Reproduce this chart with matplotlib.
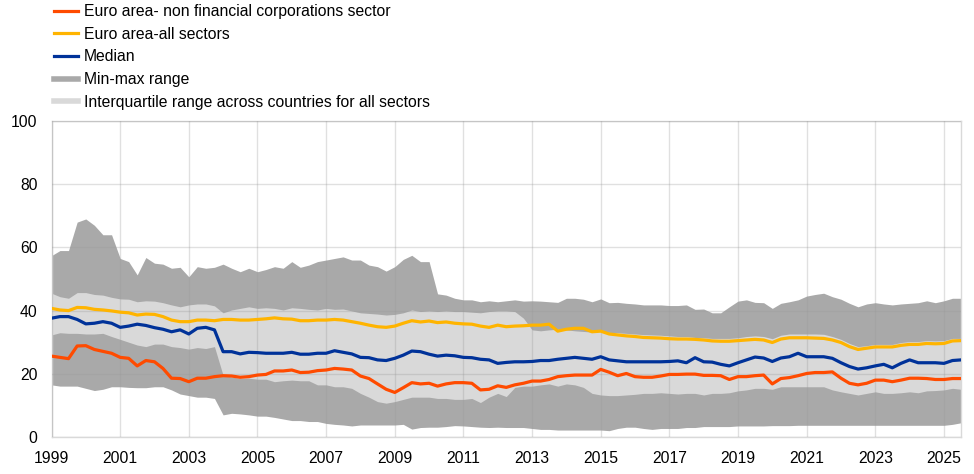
import matplotlib
matplotlib.use("Agg")
import matplotlib.pyplot as plt
import matplotlib.dates as mdates
from matplotlib.lines import Line2D
import pandas as pd

plt.rcParams['font.family'] = ['Liberation Sans', 'DejaVu Sans']

# quarterly observations, 1999 Q1 - 2025 Q3
dates = pd.date_range('1999-01-01', periods=107, freq='QS')
year_ticks = pd.date_range('1999-01-01', '2025-01-01', freq='2YS')

max_range = [57.4, 59, 59, 68, 69, 67, 64, 64, 56.5, 55.5, 51.3, 56.8, 55, 54.7, 53.4, 53.7,
             50.7, 53.9, 53.4, 53.7, 54.7, 53.4, 52.3, 53.4, 52.3, 53, 53.9, 53.4, 55.5, 53.7, 54.4, 55.5,
             56, 56.5, 57, 56, 56, 54.4, 53.9, 52.5, 53.9, 56.2, 57.5, 55.5, 55.5, 45.3, 44.9, 43.9,
             43.4, 43.4, 42.8, 43.1, 42.8, 43.1, 43.4, 43, 43.1, 43, 42.8, 42.6, 43.9, 43.9, 43.6, 42.8,
             43.7, 42.5, 42.6, 42.3, 42.1, 41.8, 41.8, 41.8, 41.6, 41.6, 41.8, 40.4, 40.5, 39.3, 39.3, 41.2,
             43, 43.4, 42.6, 42.5, 40.7, 42.3, 42.8, 43.4, 44.6, 45.1, 45.5, 44.4, 43.6, 42.3, 41.2, 42.1,
             42.5, 42.1, 41.8, 42.1, 42.3, 42.5, 43.1, 42.5, 43.1, 43.9, 43.9]
q3 = [45.5, 44.4, 43.9, 45.7, 45.7, 45.1, 44.9, 44.2, 43.7, 43.6, 42.8, 43.1, 43, 42.5, 41.8, 41.2,
      41.8, 42.1, 42.1, 41.5, 39.3, 40.2, 40.7, 41.2, 40.7, 40.9, 40.7, 40.2, 40.9, 40.7, 40.4, 40.2,
      40.7, 40.4, 40.5, 39.9, 39.3, 39.1, 38.9, 38.6, 38.8, 39.3, 40.2, 39.7, 39.9, 39.7, 39.9, 39.7,
      39.7, 39.5, 39.3, 39.7, 39.9, 39.9, 39.7, 37.6, 33.9, 33.6, 33.9, 34.1, 33.9, 33.6, 33.4, 33.2,
      33.5, 33.1, 33, 32.8, 32.6, 32.4, 32.3, 32.2, 32, 31.8, 31.8, 31.5, 31.4, 31.2, 31.2, 31.2,
      31.4, 31.8, 32, 31.8, 31.1, 32.2, 32.6, 32.6, 32.6, 32.6, 32.5, 31.8, 30.9, 29.6, 28.6, 28.9,
      29.3, 29.3, 29.3, 29.9, 30.2, 30.2, 30.5, 30.4, 30.5, 31.2, 31.2]
all_sectors = [40.7, 40.2, 40, 41, 40.9, 40.4, 40.2, 39.9, 39.5, 39.3, 38.6, 38.9, 38.8, 38.1, 37, 36.5,
               36.5, 37, 37, 36.8, 37.2, 37.2, 37, 37, 37.2, 37.4, 37.7, 37.4, 37.3, 36.8, 36.8, 37,
               37, 37.2, 37, 36.5, 36, 35.4, 34.9, 34.7, 35.1, 36, 36.8, 36.4, 36.7, 36.2, 36.4, 36,
               35.8, 35.7, 35.1, 34.7, 35.4, 34.9, 35.1, 35.2, 35.4, 35.4, 35.7, 33.5, 34.1, 34.4, 34.4, 33.3,
               33.5, 32.6, 32.3, 32, 31.8, 31.5, 31.4, 31.3, 31.1, 31, 31, 30.9, 30.7, 30.4, 30.3, 30.3,
               30.5, 30.7, 30.9, 30.7, 29.9, 31, 31.4, 31.4, 31.4, 31.3, 31.2, 30.7, 29.9, 28.6, 27.7, 28.1,
               28.5, 28.5, 28.5, 29, 29.3, 29.3, 29.6, 29.5, 29.6, 30.4, 30.5]
median = [37.6, 38.1, 38.1, 37.2, 35.8, 36, 36.5, 36, 34.7, 35.1, 35.7, 35.3, 34.6, 34.1, 33.3, 33.9,
          32.6, 34.4, 34.7, 33.9, 27, 27, 26.3, 26.8, 26.7, 26.5, 26.5, 26.5, 26.8, 26.2, 26.2, 26.5,
          26.5, 27.3, 26.8, 26.3, 25.2, 25.1, 24.4, 24.2, 24.9, 25.9, 27.2, 27, 26.2, 25.6, 25.9, 25.7,
          25.2, 25.1, 24.6, 24.4, 23.3, 23.6, 23.8, 23.8, 23.9, 24.2, 24.2, 24.6, 24.9, 25.2, 24.9, 24.6,
          25.4, 24.4, 24.1, 23.8, 23.8, 23.8, 23.8, 23.8, 23.9, 24.1, 23.5, 25.1, 23.8, 23.7, 23, 22.5,
          23.5, 24.4, 25.3, 25, 23.9, 25, 25.4, 26.5, 25.4, 25.4, 25.4, 24.9, 23.5, 22.3, 21.5, 21.9,
          22.5, 23, 21.9, 23.3, 24.4, 23.5, 23.5, 23.5, 23.3, 24.2, 24.4]
nfc = [25.6, 25.2, 24.8, 28.8, 28.9, 27.7, 27.1, 26.5, 25.2, 24.9, 22.5, 24.2, 23.8, 21.7, 18.6, 18.5,
       17.5, 18.6, 18.6, 19.1, 19.4, 19.3, 18.9, 19.1, 19.6, 19.8, 20.9, 20.9, 21.2, 20.4, 20.5, 21,
       21.2, 21.7, 21.5, 21.2, 19.3, 18.5, 16.8, 15.1, 14.1, 15.6, 17.2, 16.8, 17, 16.1, 16.8, 17.2,
       17.2, 17, 14.9, 15.1, 16.2, 15.7, 16.5, 17, 17.7, 17.7, 18.2, 19.1, 19.4, 19.6, 19.6, 19.6,
       21.4, 20.5, 19.4, 20.1, 19.1, 18.9, 18.9, 19.3, 19.8, 19.8, 19.9, 19.9, 19.5, 19.5, 19.4, 18.2,
       19.1, 19.1, 19.4, 19.6, 16.8, 18.5, 18.8, 19.4, 20.1, 20.4, 20.4, 20.6, 18.6, 17, 16.5, 17,
       18, 18, 17.5, 18, 18.6, 18.6, 18.5, 18.2, 18.2, 18.5, 18.5]
q1 = [32.3, 33, 32.8, 32.8, 32.6, 32.6, 32.8, 31.8, 30.9, 30, 29.1, 28.6, 29.4, 29.4, 28.6, 28.3,
      27.8, 28.3, 28, 28.6, 19.5, 19, 18.5, 18.6, 18.3, 18.3, 17.5, 17.8, 18, 17.8, 17.8, 16.5,
      16.5, 15.9, 15.9, 15.4, 13.8, 12.6, 11.2, 10.7, 11.2, 11.9, 12.6, 12.6, 12.6, 12.2, 12.2, 11.9,
      11.9, 12.2, 10.9, 12.6, 13.8, 12.8, 15.7, 16.1, 16.1, 16.5, 16.8, 16.1, 16.8, 16.5, 15.7, 13.8,
      13.3, 13.1, 13.1, 13.3, 13.5, 13.8, 13.8, 14, 13.8, 13.6, 13.8, 13.8, 13.3, 13.8, 13.8, 14,
      14.6, 14.9, 15.4, 15.4, 15.1, 15.9, 15.9, 15.9, 15.9, 15.9, 15.9, 14.9, 14.3, 13.8, 13.3, 13.8,
      14.3, 13.8, 13.8, 14, 14.3, 14, 14.6, 14.7, 14.9, 15.4, 15.1]
min_range = [16.5, 16.1, 16.1, 16.1, 15.4, 14.7, 15.1, 15.9, 15.9, 15.7, 15.6, 15.6, 15.9, 15.9, 14.9, 13.6,
             13.1, 12.6, 12.6, 12.2, 7, 7.5, 7.3, 7, 6.6, 6.6, 6.2, 5.7, 5.2, 5.2, 4.9, 4.9,
             4.3, 4, 3.8, 3.5, 3.8, 3.8, 3.8, 3.8, 3.8, 4, 2.5, 3, 3.1, 3.1, 3.3, 3.6,
             3.5, 3.3, 3.1, 3, 3.1, 3, 3, 3, 2.7, 2.4, 2.4, 2.2, 2.2, 2.2, 2.2, 2.2,
             2.2, 2, 2.7, 3.1, 3.1, 2.7, 2.4, 2.7, 2.7, 2.7, 3, 3, 3.3, 3.3, 3.3, 3.3,
             3.5, 3.5, 3.5, 3.5, 3.6, 3.6, 3.6, 3.7, 3.7, 3.7, 3.7, 3.7, 3.7, 3.7, 3.7, 3.7,
             3.7, 3.7, 3.7, 3.7, 3.7, 3.7, 3.7, 3.7, 3.7, 4, 4.5]

labels = ['Euro area- non financial corporations sector', 'Euro area-all sectors', 'Median',
          'Min-max range', 'Interquartile range across countries for all sectors']
colors = ['#ff4b00', '#ffb400', '#003299', '#a9a9a9', '#d9d9d9']

fig = plt.figure(figsize=(9.74, 4.74), dpi=100)
ax = fig.add_axes([51.5 / 974, 37 / 474, 909.5 / 974, 316 / 474])

ax.fill_between(dates, min_range, max_range, color=colors[3], lw=0, zorder=1)
ax.fill_between(dates, q1, q3, color=colors[4], lw=0, zorder=2)
ax.plot(dates, nfc, color=colors[0], lw=2.3, zorder=4)
ax.plot(dates, all_sectors, color=colors[1], lw=2.3, zorder=4)
ax.plot(dates, median, color=colors[2], lw=2.3, zorder=4)

ax.set_xlim(dates[0], dates[-1])
ax.set_ylim(0, 100)
ax.set_yticks(range(0, 101, 20))
ax.set_xticks(year_ticks)
ax.xaxis.set_major_formatter(mdates.DateFormatter('%Y'))
ax.grid(True, color='#999999', alpha=0.3, lw=1, zorder=3)
ax.set_axisbelow(False)
ax.tick_params(length=0, labelsize=11.3, colors='#000000')
ax.tick_params(axis='y', pad=10)
ax.tick_params(axis='x', pad=10)
for s in ax.spines.values():
    s.set_color('#d9d9d9')
    s.set_linewidth(1)

handles = [Line2D([], [], color=c, lw=w) for c, w in zip(colors, [2.3, 2.3, 2.3, 4, 4])]
fig.legend(handles, labels, loc='upper left', bbox_to_anchor=(54 / 974, 1 - 4 / 474),
           frameon=False, fontsize=11.3, handlelength=1.55, handletextpad=0.35,
           labelspacing=0.49, borderpad=0, borderaxespad=0)

fig.savefig('out.png', dpi=100)
